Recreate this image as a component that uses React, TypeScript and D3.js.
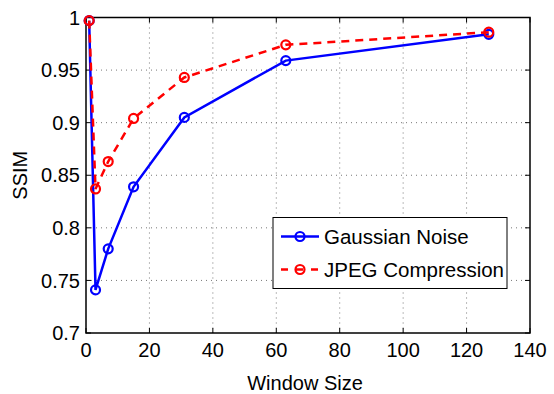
import React, { useEffect, useRef } from 'react';
import * as d3 from 'd3';

const windowSizes = [1, 3, 7, 15, 31, 63, 127];
const gaussianNoise = [0.997, 0.741, 0.780, 0.839, 0.905, 0.959, 0.984];
const jpegCompression = [0.997, 0.837, 0.863, 0.904, 0.943, 0.974, 0.986];
const xTicks = [0, 20, 40, 60, 80, 100, 120, 140];
const yTicks = [0.7, 0.75, 0.8, 0.85, 0.9, 0.95, 1];
const seriesNames = ['Gaussian Noise', 'JPEG Compression'];

const App = () => {
  const svgRef = useRef<SVGSVGElement>(null);
  const width = 554;
  const height = 394;

  useEffect(() => {
    const svg = d3.select(svgRef.current);
    svg.selectAll('*').remove();

    const margin = { top: 17.5, right: 24, bottom: 61, left: 86 };
    const innerWidth = width - margin.left - margin.right;
    const innerHeight = height - margin.top - margin.bottom;
    const font = 'Liberation Sans, Arial, Helvetica, sans-serif';

    const x = d3.scaleLinear().domain([0, 140]).range([0, innerWidth]);
    const y = d3.scaleLinear().domain([0.7, 1]).range([innerHeight, 0]);

    const g = svg.append('g')
      .attr('transform', `translate(${margin.left},${margin.top})`);

    // dotted grid
    g.selectAll('.gx')
      .data(xTicks.slice(1, -1))
      .enter().append('line')
      .attr('x1', d => x(d)).attr('x2', d => x(d))
      .attr('y1', 0).attr('y2', innerHeight)
      .attr('stroke', '#777').attr('stroke-width', 1)
      .attr('stroke-dasharray', '1,4');
    g.selectAll('.gy')
      .data(yTicks.slice(1, -1))
      .enter().append('line')
      .attr('x1', 0).attr('x2', innerWidth)
      .attr('y1', d => y(d)).attr('y2', d => y(d))
      .attr('stroke', '#777').attr('stroke-width', 1)
      .attr('stroke-dasharray', '1,4');

    // inner ticks on all sides
    const tl = 5;
    xTicks.forEach(t => {
      g.append('line').attr('x1', x(t)).attr('x2', x(t)).attr('y1', innerHeight).attr('y2', innerHeight - tl)
        .attr('stroke', '#000').attr('stroke-width', 1);
      g.append('line').attr('x1', x(t)).attr('x2', x(t)).attr('y1', 0).attr('y2', tl)
        .attr('stroke', '#000').attr('stroke-width', 1);
      g.append('text')
        .attr('x', x(t)).attr('y', innerHeight + 24)
        .attr('text-anchor', 'middle')
        .attr('font-family', font).attr('font-size', 20)
        .text(String(t));
    });
    yTicks.forEach(t => {
      g.append('line').attr('x1', 0).attr('x2', tl).attr('y1', y(t)).attr('y2', y(t))
        .attr('stroke', '#000').attr('stroke-width', 1);
      g.append('line').attr('x1', innerWidth).attr('x2', innerWidth - tl).attr('y1', y(t)).attr('y2', y(t))
        .attr('stroke', '#000').attr('stroke-width', 1);
      g.append('text')
        .attr('x', -6).attr('y', y(t))
        .attr('dy', '0.36em')
        .attr('text-anchor', 'end')
        .attr('font-family', font).attr('font-size', 20)
        .text(String(t));
    });

    // box
    g.append('rect')
      .attr('width', innerWidth).attr('height', innerHeight)
      .attr('fill', 'none').attr('stroke', '#000').attr('stroke-width', 1.5);

    const series = [
      { name: seriesNames[0], values: gaussianNoise, color: '#0000ff', dash: null },
      { name: seriesNames[1], values: jpegCompression, color: '#ff0000', dash: '8,6' },
    ];

    const line = d3.line<number>()
      .x((d, i) => x(windowSizes[i]))
      .y(d => y(d));

    series.forEach(s => {
      g.append('path')
        .datum(s.values)
        .attr('d', line)
        .attr('fill', 'none')
        .attr('stroke', s.color)
        .attr('stroke-width', 2.5)
        .attr('stroke-dasharray', s.dash);
      g.selectAll(null)
        .data(s.values)
        .enter().append('circle')
        .attr('cx', (d, i) => x(windowSizes[i]))
        .attr('cy', d => y(d))
        .attr('r', 4.5)
        .attr('fill', 'none')
        .attr('stroke', s.color)
        .attr('stroke-width', 2.2);
    });

    // legend
    const lg = svg.append('g').attr('transform', 'translate(273,217.5)');
    lg.append('rect')
      .attr('width', 234).attr('height', 71)
      .attr('fill', '#fff').attr('stroke', '#000').attr('stroke-width', 1);
    series.forEach((s, i) => {
      const cy = 19 + i * 33;
      lg.append('line')
        .attr('x1', 8).attr('x2', 46).attr('y1', cy).attr('y2', cy)
        .attr('stroke', s.color).attr('stroke-width', 2.5)
        .attr('stroke-dasharray', s.dash ? '7,8' : null);
      lg.append('circle')
        .attr('cx', 27).attr('cy', cy).attr('r', 4.5)
        .attr('fill', 'none').attr('stroke', s.color).attr('stroke-width', 2.2);
      lg.append('text')
        .attr('x', 51).attr('y', cy)
        .attr('dy', '0.36em')
        .attr('font-family', font).attr('font-size', 20.5)
        .text(s.name);
    });

    // axis labels
    svg.append('text')
      .attr('x', margin.left + innerWidth / 2 - 3).attr('y', 390)
      .attr('text-anchor', 'middle')
      .attr('font-family', font).attr('font-size', 20)
      .text('Window Size');
    svg.append('text')
      .attr('transform', `translate(27,${margin.top + innerHeight / 2}) rotate(-90)`)
      .attr('text-anchor', 'middle')
      .attr('font-family', font).attr('font-size', 20)
      .text('SSIM');
  }, []);

  return (
    <svg ref={svgRef} width={width} height={height}
      style={{ position: 'absolute', left: 0, top: 0, background: '#fff' }} />
  );
};

export default App;
